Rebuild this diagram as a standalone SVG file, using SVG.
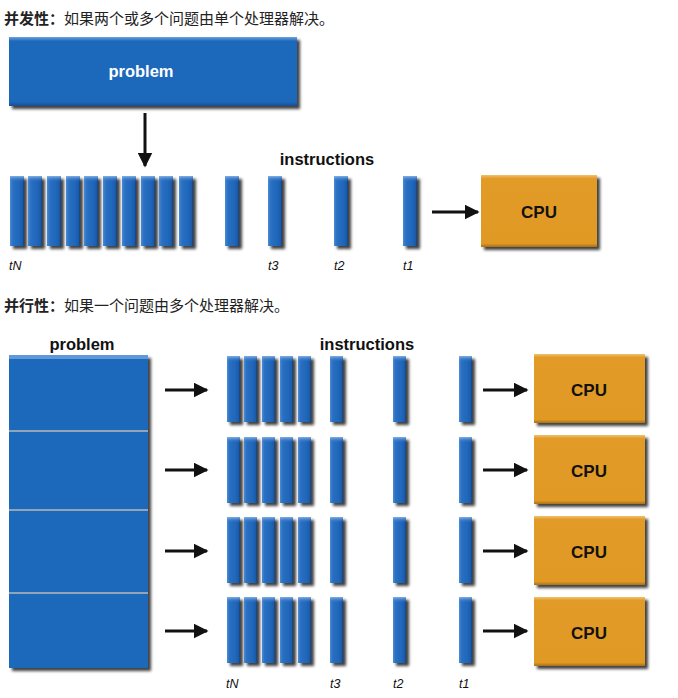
<svg xmlns="http://www.w3.org/2000/svg" xmlns:xlink="http://www.w3.org/1999/xlink" width="678" height="698" viewBox="0 0 678 698">
<style>
.cn{font-family:"Noto Sans CJK SC","Noto Sans",sans-serif;font-size:15px;fill:#222}
.cnb{font-weight:bold}
.lbl{font-family:"Liberation Sans",Arial,sans-serif;font-weight:bold;font-size:16.5px;fill:#111;text-anchor:middle}
.wlbl{font-family:"Liberation Sans",Arial,sans-serif;font-weight:bold;font-size:16.5px;fill:#fff;text-anchor:middle}
.cpu{font-family:"Liberation Sans",Arial,sans-serif;font-weight:bold;font-size:17px;fill:#111;text-anchor:middle}
.t{font-family:"Liberation Sans",Arial,sans-serif;font-style:italic;font-size:12.5px;fill:#111}
.conn{stroke:#111;stroke-width:3;fill:none}
.blue{fill:url(#gBlue)}
.orange{fill:url(#gOrange)}
</style>
<defs>
<filter id="sh" x="-30%" y="-30%" width="180%" height="180%">
<feDropShadow dx="3" dy="3" stdDeviation="1.6" flood-color="#000" flood-opacity="0.75"/>
</filter>
<linearGradient id="gBlue" x1="0" y1="0" x2="1" y2="0">
<stop offset="0" stop-color="#4a8bd6"/>
<stop offset="0.2" stop-color="#2a70c2"/>
<stop offset="0.75" stop-color="#1e64b8"/>
<stop offset="0.92" stop-color="#1a58a4"/>
<stop offset="1" stop-color="#0e3c78"/>
</linearGradient>
<linearGradient id="gBlueBox" x1="0" y1="0" x2="0" y2="1">
<stop offset="0" stop-color="#6ea3df"/>
<stop offset="0.06" stop-color="#1f67bb"/>
<stop offset="0.94" stop-color="#1f67bb"/>
<stop offset="1" stop-color="#174f92"/>
</linearGradient>
<linearGradient id="gOrange" x1="0" y1="0" x2="0" y2="1">
<stop offset="0" stop-color="#f0c070"/>
<stop offset="0.05" stop-color="#e29b27"/>
<stop offset="0.95" stop-color="#e09924"/>
<stop offset="1" stop-color="#a9701a"/>
</linearGradient>
<linearGradient id="gTop" x1="0" y1="0" x2="0" y2="1">
<stop offset="0" stop-color="#8fb8ea" stop-opacity="0.9"/>
<stop offset="1" stop-color="#2a70c2" stop-opacity="0"/>
</linearGradient>
<marker id="ah" viewBox="0 0 10 10" refX="9" refY="5" markerWidth="5" markerHeight="5" orient="auto" markerUnits="strokeWidth">
<path d="M0,0 L10,5 L0,10 Z" fill="#111"/>
</marker>
<symbol id="bar1" overflow="visible">
<rect x="0" y="0" width="14" height="70" class="blue" filter="url(#sh)"/>
<rect x="0" y="0" width="14" height="6" fill="url(#gTop)"/>
</symbol>
<symbol id="bar2" overflow="visible">
<rect x="0" y="0" width="13" height="66" class="blue" filter="url(#sh)"/>
<rect x="0" y="0" width="13" height="6" fill="url(#gTop)"/>
</symbol>
</defs>
<rect width="678" height="698" fill="#fff"/>

<!-- Section 1 -->
<text class="cn" x="4" y="24"><tspan class="cnb">并发性：</tspan>如果两个或多个问题由单个处理器解决。</text>

<g id="problem1">
<rect x="9" y="37" width="288" height="69" fill="url(#gBlueBox)" filter="url(#sh)"/>
<text class="wlbl" x="141" y="77">problem</text>
</g>

<text class="lbl" x="327" y="165">instructions</text>

<g id="instructions1">
<use xlink:href="#bar1" x="10" y="176"/>
<use xlink:href="#bar1" x="28" y="176"/>
<use xlink:href="#bar1" x="47" y="176"/>
<use xlink:href="#bar1" x="66" y="176"/>
<use xlink:href="#bar1" x="84" y="176"/>
<use xlink:href="#bar1" x="103" y="176"/>
<use xlink:href="#bar1" x="122" y="176"/>
<use xlink:href="#bar1" x="141" y="176"/>
<use xlink:href="#bar1" x="159" y="176"/>
<use xlink:href="#bar1" x="179" y="176"/>
<use xlink:href="#bar1" x="225" y="176"/>
<use xlink:href="#bar1" x="268" y="176"/>
<use xlink:href="#bar1" x="334" y="176"/>
<use xlink:href="#bar1" x="403" y="176"/>
<text class="t" x="9" y="270">tN</text>
<text class="t" x="268" y="270">t3</text>
<text class="t" x="334" y="270">t2</text>
<text class="t" x="403" y="270">t1</text>
</g>

<g id="cpu1">
<rect x="481" y="175" width="116" height="72" class="orange" filter="url(#sh)"/>
<text class="cpu" x="539" y="218">CPU</text>
</g>

<g id="connectors1">
<line class="conn" x1="145" y1="113" x2="145" y2="166" marker-end="url(#ah)"/>
<line class="conn" x1="432" y1="212" x2="478" y2="212" marker-end="url(#ah)"/>
</g>

<!-- Section 2 -->
<text class="cn" x="4" y="311"><tspan class="cnb">并行性：</tspan>如果一个问题由多个处理器解决。</text>

<text class="lbl" x="82" y="350">problem</text>
<g id="problem2">
<rect x="9" y="355" width="139" height="313" fill="#1f67bb" filter="url(#sh)"/>
<rect x="9" y="355" width="139" height="4" fill="#5f98db"/>
<line x1="9" y1="431" x2="148" y2="431" stroke="#b8b8b8" stroke-width="1.5"/>
<line x1="9" y1="510" x2="148" y2="510" stroke="#b8b8b8" stroke-width="1.5"/>
<line x1="9" y1="593" x2="148" y2="593" stroke="#b8b8b8" stroke-width="1.5"/>
</g>

<text class="lbl" x="367" y="350">instructions</text>

<g id="instructions2a">
<use xlink:href="#bar2" x="227" y="356"/>
<use xlink:href="#bar2" x="244" y="356"/>
<use xlink:href="#bar2" x="262" y="356"/>
<use xlink:href="#bar2" x="280" y="356"/>
<use xlink:href="#bar2" x="298" y="356"/>
<use xlink:href="#bar2" x="330" y="356"/>
<use xlink:href="#bar2" x="393" y="356"/>
<use xlink:href="#bar2" x="459" y="356"/>
</g>
<g id="instructions2b">
<use xlink:href="#bar2" x="227" y="437"/>
<use xlink:href="#bar2" x="244" y="437"/>
<use xlink:href="#bar2" x="262" y="437"/>
<use xlink:href="#bar2" x="280" y="437"/>
<use xlink:href="#bar2" x="298" y="437"/>
<use xlink:href="#bar2" x="330" y="437"/>
<use xlink:href="#bar2" x="393" y="437"/>
<use xlink:href="#bar2" x="459" y="437"/>
</g>
<g id="instructions2c">
<use xlink:href="#bar2" x="227" y="517"/>
<use xlink:href="#bar2" x="244" y="517"/>
<use xlink:href="#bar2" x="262" y="517"/>
<use xlink:href="#bar2" x="280" y="517"/>
<use xlink:href="#bar2" x="298" y="517"/>
<use xlink:href="#bar2" x="330" y="517"/>
<use xlink:href="#bar2" x="393" y="517"/>
<use xlink:href="#bar2" x="459" y="517"/>
</g>
<g id="instructions2d">
<use xlink:href="#bar2" x="227" y="597"/>
<use xlink:href="#bar2" x="244" y="597"/>
<use xlink:href="#bar2" x="262" y="597"/>
<use xlink:href="#bar2" x="280" y="597"/>
<use xlink:href="#bar2" x="298" y="597"/>
<use xlink:href="#bar2" x="330" y="597"/>
<use xlink:href="#bar2" x="393" y="597"/>
<use xlink:href="#bar2" x="459" y="597"/>
<text class="t" x="226" y="688">tN</text>
<text class="t" x="330" y="688">t3</text>
<text class="t" x="393" y="688">t2</text>
<text class="t" x="459" y="688">t1</text>
</g>

<g id="cpu2a">
<rect x="534" y="354" width="111" height="69" class="orange" filter="url(#sh)"/>
<text class="cpu" x="589" y="396">CPU</text>
</g>
<g id="cpu2b">
<rect x="534" y="435" width="111" height="69" class="orange" filter="url(#sh)"/>
<text class="cpu" x="589" y="477">CPU</text>
</g>
<g id="cpu2c">
<rect x="534" y="516" width="111" height="69" class="orange" filter="url(#sh)"/>
<text class="cpu" x="589" y="558">CPU</text>
</g>
<g id="cpu2d">
<rect x="534" y="597" width="111" height="69" class="orange" filter="url(#sh)"/>
<text class="cpu" x="589" y="639">CPU</text>
</g>

<g id="connectors2">
<line class="conn" x1="165" y1="390" x2="207" y2="390" marker-end="url(#ah)"/>
<line class="conn" x1="165" y1="470" x2="207" y2="470" marker-end="url(#ah)"/>
<line class="conn" x1="165" y1="551" x2="207" y2="551" marker-end="url(#ah)"/>
<line class="conn" x1="165" y1="631" x2="207" y2="631" marker-end="url(#ah)"/>
<line class="conn" x1="483" y1="390" x2="527" y2="390" marker-end="url(#ah)"/>
<line class="conn" x1="483" y1="470" x2="527" y2="470" marker-end="url(#ah)"/>
<line class="conn" x1="483" y1="551" x2="527" y2="551" marker-end="url(#ah)"/>
<line class="conn" x1="483" y1="631" x2="527" y2="631" marker-end="url(#ah)"/>
</g>
</svg>
